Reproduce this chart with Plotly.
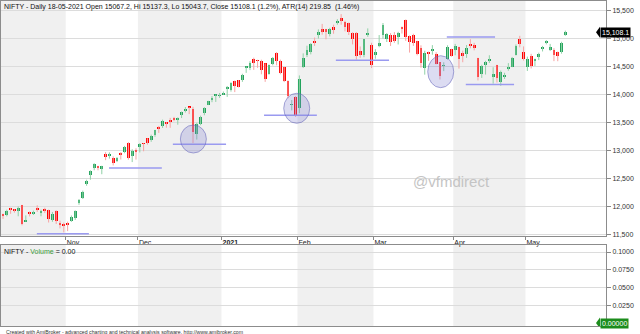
import plotly.graph_objects as go

# ---------------- data ----------------
dates = [
    "2020-10-08","2020-10-09","2020-10-12","2020-10-13","2020-10-14","2020-10-15","2020-10-16",
    "2020-10-19","2020-10-20","2020-10-21","2020-10-22","2020-10-23","2020-10-26","2020-10-27",
    "2020-10-28","2020-10-29","2020-10-30",
    "2020-11-02","2020-11-03","2020-11-04","2020-11-05","2020-11-06","2020-11-09","2020-11-10",
    "2020-11-11","2020-11-12","2020-11-13","2020-11-17","2020-11-18","2020-11-19","2020-11-20",
    "2020-11-23","2020-11-24","2020-11-25","2020-11-26","2020-11-27",
    "2020-12-01","2020-12-02","2020-12-03","2020-12-04","2020-12-07","2020-12-08","2020-12-09",
    "2020-12-10","2020-12-11","2020-12-14","2020-12-15","2020-12-16","2020-12-17","2020-12-18",
    "2020-12-21","2020-12-22","2020-12-23","2020-12-24","2020-12-28","2020-12-29","2020-12-30",
    "2020-12-31",
    "2021-01-01","2021-01-04","2021-01-05","2021-01-06","2021-01-07","2021-01-08","2021-01-11",
    "2021-01-12","2021-01-13","2021-01-14","2021-01-15","2021-01-18","2021-01-19","2021-01-20",
    "2021-01-21","2021-01-22","2021-01-25","2021-01-27","2021-01-28","2021-01-29",
    "2021-02-01","2021-02-02","2021-02-03","2021-02-04","2021-02-05","2021-02-08","2021-02-09",
    "2021-02-10","2021-02-11","2021-02-12","2021-02-15","2021-02-16","2021-02-17","2021-02-18",
    "2021-02-19","2021-02-22","2021-02-23","2021-02-24","2021-02-25","2021-02-26",
    "2021-03-01","2021-03-02","2021-03-03","2021-03-04","2021-03-05","2021-03-08","2021-03-09",
    "2021-03-10","2021-03-12","2021-03-15","2021-03-16","2021-03-17","2021-03-18","2021-03-19",
    "2021-03-22","2021-03-23","2021-03-24","2021-03-25","2021-03-26","2021-03-30","2021-03-31",
    "2021-04-01","2021-04-05","2021-04-06","2021-04-07","2021-04-08","2021-04-09","2021-04-12",
    "2021-04-13","2021-04-15","2021-04-16","2021-04-19","2021-04-20","2021-04-22","2021-04-23",
    "2021-04-26","2021-04-27","2021-04-28","2021-04-29","2021-04-30",
    "2021-05-03","2021-05-04","2021-05-05","2021-05-06","2021-05-07","2021-05-10","2021-05-11",
    "2021-05-12","2021-05-14","2021-05-17","2021-05-18",
]

opens = [
    11852, 11851, 11973, 11940, 11917, 12023, 11727, 11890, 11872, 11958, 11890, 11957, 11938, 11760, 11922, 11690, 11678,
    11697, 11734, 11783, 12062, 12156, 12399, 12556, 12680, 12721, 12659, 12932, 12892, 12860, 12813, 12960, 12965, 13131, 12907, 13012,
    13064, 13122, 13215, 13177, 13265, 13410, 13436, 13488, 13527, 13571, 13547, 13625, 13713, 13772, 13741, 13292, 13473, 13672, 13815, 13910, 13980, 13970,
    13996, 14104, 14076, 14240, 14253, 14258, 14474, 14473, 14639, 14610, 14594, 14551, 14371, 14538, 14730, 14590, 14491, 14237, 13810, 13946,
    13758, 14482, 14706, 14764, 14953, 15064, 15165, 15164, 15082, 15198, 15270, 15371, 15291, 15277, 15101, 15099, 14780, 14702, 15069, 14888,
    14702, 14864, 15064, 14989, 15065, 15064, 15015, 15195, 15332, 15049, 15063, 14946, 14829, 14471, 14737, 14768, 14712, 14570, 14506, 14628, 14811,
    14798, 14837, 14737, 14716, 14875, 14882, 14644, 14364, 14522, 14599, 14306, 14526, 14219, 14326, 14449, 14493, 14710, 14979, 14747,
    14481, 14687, 14604, 14668, 14816, 14928, 14789, 14797, 14749, 14756, 15067.2,
]
highs = [
    11869, 11939, 11974, 11949, 11997, 12025, 11838, 11909, 11923, 12018, 11940, 11975, 11942, 11899, 11929, 11744, 11710,
    11726, 11836, 11929, 12131, 12280, 12475, 12643, 12769, 12724, 12724, 12968, 12963, 12892, 12879, 12968, 13079, 13145, 13018, 13036,
    13128, 13128, 13216, 13280, 13366, 13435, 13548, 13504, 13579, 13597, 13588, 13693, 13773, 13772, 13777, 13492, 13619, 13771, 13885, 13968, 13997, 14024,
    14050, 14148, 14215, 14245, 14256, 14367, 14498, 14591, 14654, 14617, 14618, 14552, 14531, 14666, 14753, 14619, 14491, 14250, 13898, 13967,
    14337, 14731, 14868, 14913, 15014, 15159, 15257, 15168, 15187, 15243, 15341, 15432, 15314, 15281, 15109, 15112, 14854, 14990, 15177, 14920,
    14806, 15058, 15273, 15093, 15093, 15111, 15116, 15210, 15336, 15051, 15081, 14956, 14875, 14778, 14763, 14878, 14752, 14575, 14572, 14876, 14813,
    14900, 14849, 14779, 14879, 14984, 14919, 14652, 14528, 14598, 14697, 14483, 14527, 14424, 14385, 14557, 14667, 14890, 15044, 14855,
    14673, 14723, 14637, 14743, 14864, 14967, 14900, 14824, 14764, 14938, 15137.3,
]
lows = [
    11776, 11821, 11867, 11887, 11822, 11661, 11723, 11820, 11845, 11900, 11823, 11880, 11711, 11723, 11684, 11606, 11535,
    11557, 11723, 11757, 12027, 12131, 12367, 12475, 12644, 12643, 12573, 12824, 12852, 12730, 12790, 12836, 12948, 12833, 12790, 12835,
    12962, 12983, 13101, 13152, 13241, 13311, 13399, 13403, 13402, 13521, 13457, 13576, 13675, 13647, 13131, 13192, 13447, 13626, 13807, 13859, 13864, 13936,
    13991, 13954, 14048, 14039, 14123, 14222, 14383, 14432, 14436, 14472, 14357, 14222, 14350, 14517, 14518, 14358, 14218, 13929, 13713, 13597,
    13662, 14469, 14665, 14713, 14865, 14995, 15065, 14982, 15033, 15081, 15243, 15243, 15124, 15059, 14891, 14619, 14651, 14662, 15026, 14468,
    14635, 14840, 14995, 14934, 14863, 14919, 14890, 15085, 14954, 14745, 14865, 14696, 14476, 14351, 14597, 14707, 14535, 14264, 14414, 14617, 14670,
    14697, 14459, 14573, 14650, 14821, 14785, 14248, 14293, 14353, 14560, 14191, 14209, 14152, 14273, 14421, 14484, 14694, 14838, 14602,
    14417, 14461, 14506, 14611, 14765, 14892, 14772, 14592, 14591, 14725, 15043.7,
]
closes = [
    11834, 11914, 11930, 11934, 11971, 11680, 11762, 11873, 11897, 11937, 11896, 11930, 11767, 11860, 11730, 11670, 11642,
    11669, 11813, 11908, 12120, 12263, 12461, 12631, 12749, 12691, 12720, 12874, 12938, 12772, 12859, 12926, 13055, 12858, 12987, 12969,
    13109, 13113, 13134, 13258, 13356, 13393, 13529, 13478, 13514, 13558, 13568, 13682, 13740, 13761, 13328, 13466, 13601, 13749, 13873, 13932, 13982, 13981,
    14018, 14132, 14199, 14146, 14137, 14347, 14485, 14563, 14564, 14595, 14433, 14281, 14521, 14644, 14590, 14372, 14239, 13968, 13818, 13635,
    14281, 14648, 14790, 14896, 14924, 15116, 15110, 15107, 15173, 15163, 15315, 15314, 15209, 15119, 14982, 14676, 14708, 14982, 15097, 14529,
    14762, 14920, 15246, 15081, 14938, 14956, 15099, 15174, 15031, 14929, 14911, 14721, 14558, 14744, 14736, 14815, 14549, 14324, 14507, 14845, 14691,
    14867, 14638, 14684, 14819, 14873, 14835, 14311, 14505, 14581, 14617, 14359, 14296, 14406, 14341, 14485, 14653, 14865, 14895, 14631,
    14634, 14497, 14618, 14725, 14823, 14942, 14851, 14697, 14678, 14923, 15108.1,
]

month_labels = ["Nov", "Dec", "<b>2021</b>", "Feb", "Mar", "Apr", "May"]
price_ticks = [11500, 12000, 12500, 13000, 13500, 14000, 14500, 15000, 15500]
volume_ticks = [0.025, 0.05, 0.075, 0.1]
volume_tick_text = ["0.0250", "0.0500", "0.0750", "0.1000"]

# drawn annotations (bar index start, bar index end, price level)
support_lines = [(8.9, 22.6, 11511), (27.9, 41.8, 12684), (44.7, 58.7, 13107),
                 (68.7, 82.6, 13625), (87.6, 101.6, 14607), (116.8, 129.5, 15023),
                 (121.8, 134.5, 14175)]
# circles: (bar index, price, half-width px, half-height px)
circles = [(50.1, 13202, 13, 14), (77.3, 13750, 13, 15), (115.2, 14404, 13, 16)]

title_text = ("NIFTY - Daily 18-05-2021 Open 15067.2, Hi 15137.3, Lo 15043.7, "
              "Close 15108.1 (1.2%), ATR(14) 219.85  (1.46%)")

# ---------------- figure ----------------
n = len(dates)
idx = list(range(n))
GREEN = "#22a35c"
RED = "#ff0000"
GREEN_W = "#8fd1a6"
RED_W = "#f7a3a3"

fig = go.Figure()

# wicks
for up, col in ((True, GREEN_W), (False, RED_W)):
    xs, ys = [], []
    for i in idx:
        if (closes[i] >= opens[i]) == up:
            xs += [i, i, None]
            ys += [lows[i], highs[i], None]
    fig.add_trace(go.Scatter(x=xs, y=ys, mode="lines", line=dict(color=col, width=1),
                             hoverinfo="skip", xaxis="x", yaxis="y"))

# bodies
base = [min(o, c) for o, c in zip(opens, closes)]
height = [max(abs(c - o), 14) for o, c in zip(opens, closes)]
colors = [GREEN if c >= o else RED for o, c in zip(opens, closes)]
fig.add_trace(go.Bar(x=idx, y=height, base=base, width=0.75, marker=dict(color=colors, line=dict(width=0)),
                     hoverinfo="skip", xaxis="x", yaxis="y"))

# month starts
month_starts = [i for i in range(1, n) if dates[i][:7] != dates[i - 1][:7]]
tickpos = [m - 0.5 for m in month_starts]

x_lo, x_hi = -0.53, 158.7
bounds = [x_lo - 1] + tickpos + [x_hi + 1]
shapes = []
for k in range(len(bounds) - 1):
    if k % 2 == 0:
        for yr in ("y domain", "y2 domain"):
            shapes.append(dict(type="rect", xref="x", yref=yr, x0=bounds[k], x1=bounds[k + 1],
                               y0=0, y1=1, fillcolor="#f0f0f0", line=dict(width=0), layer="below"))

for x0, x1, p in support_lines:
    shapes.append(dict(type="line", xref="x", yref="y", x0=x0, x1=x1, y0=p, y1=p,
                       line=dict(color="#9a9af0", width=1.5), layer="above"))
for cx, cy, rx, ry in circles:
    shapes.append(dict(type="circle", xref="x", yref="y", xsizemode="pixel", ysizemode="pixel",
                       xanchor=cx, yanchor=cy, x0=-rx, x1=rx, y0=-ry, y1=ry,
                       fillcolor="rgba(130,130,210,0.28)", line=dict(color="rgba(100,100,185,0.55)", width=1),
                       layer="above"))

# price label arrows
shapes.append(dict(type="path", xref="paper", yref="y", xsizemode="pixel", ysizemode="pixel",
                   xanchor=1, yanchor=closes[-1], path="M -10,0 L -6,5.5 L -6,-5.5 Z",
                   fillcolor="black", line=dict(width=0), layer="above"))
shapes.append(dict(type="path", xref="paper", yref="y2", xsizemode="pixel", ysizemode="pixel",
                   xanchor=1, yanchor=0, path="M -10,0 L -6,5.5 L -6,-5.5 Z",
                   fillcolor="#1c8c1c", line=dict(width=0), layer="above"))

FONT = "Liberation Sans, Arial, sans-serif"
annotations = [
    dict(text=title_text, xref="paper", yref="paper", x=0, y=1, xanchor="left", yanchor="top",
         xshift=1, yshift=0, showarrow=False, font=dict(size=7, color="#111", family=FONT)),
    dict(text="@vfmdirect", xref="paper", yref="paper", x=0.8116, y=0.446, showarrow=False,
         font=dict(size=15, color="#c4c4c4", family=FONT)),
    dict(text="NIFTY - <span style='color:#3a9a3a'>Volume</span> = 0.00", xref="paper", yref="y2 domain",
         x=0, y=1, xanchor="left", yanchor="top", xshift=1, yshift=-1, showarrow=False,
         font=dict(size=7, color="#111", family=FONT)),
    dict(text="Created with AmiBroker - advanced charting and technical analysis software. http://www.amibroker.com",
         xref="paper", yref="paper", x=0, y=0, xanchor="left", yanchor="top", xshift=3, yshift=-1,
         showarrow=False, font=dict(size=5.2, color="#333", family=FONT)),
    dict(text=f"{closes[-1]:,.1f}", xref="paper", yref="y", x=1, y=closes[-1], xanchor="left",
         xshift=-6, showarrow=False, bgcolor="black", borderpad=1,
         font=dict(size=7, color="white", family=FONT)),
    dict(text="0.00000", xref="paper", yref="y2", x=1, y=0, xanchor="left",
         xshift=-6, showarrow=False, bgcolor="#1c8c1c", borderpad=1,
         font=dict(size=7, color="white", family=FONT)),
]

axis_common = dict(showline=True, mirror=True, linecolor="#8c8c8c", linewidth=1, zeroline=False, fixedrange=True)

fig.update_layout(
    width=640, height=334, margin=dict(l=1, r=34, t=1, b=8),
    paper_bgcolor="white", plot_bgcolor="white", showlegend=False, hovermode=False,
    font=dict(family=FONT, size=7, color="#222"),
    bargap=0,
    shapes=shapes, annotations=annotations,
    xaxis=dict(domain=[0, 1], anchor="y", range=[x_lo, x_hi], tickmode="array", tickvals=tickpos,
               ticktext=month_labels, ticks="outside", ticklen=3, tickcolor="#888",
               ticklabelposition="outside right", showgrid=False,
               tickfont=dict(size=7, color="#222"), **axis_common),
    yaxis=dict(domain=[0.2769, 1], anchor="x", side="right", range=[11470, 15666],
               tickmode="array", tickvals=price_ticks, ticktext=[f"{v:,}" for v in price_ticks],
               ticks="outside", ticklen=4, tickcolor="#888", showgrid=True, gridcolor="#dcdcdc",
               tickfont=dict(size=7, color="#333"), **axis_common),
    xaxis2=dict(domain=[0, 1], anchor="y2", matches="x", range=[x_lo, x_hi], showticklabels=False,
                ticks="", showgrid=False, **axis_common),
    yaxis2=dict(domain=[0, 0.2492], anchor="x2", side="right", range=[-0.0042, 0.1099],
                tickmode="array", tickvals=volume_ticks, ticktext=volume_tick_text,
                ticks="outside", ticklen=4, tickcolor="#888", showgrid=True, gridcolor="#dcdcdc",
                tickfont=dict(size=7, color="#333"), **axis_common),
)

fig.write_html("out.html")
